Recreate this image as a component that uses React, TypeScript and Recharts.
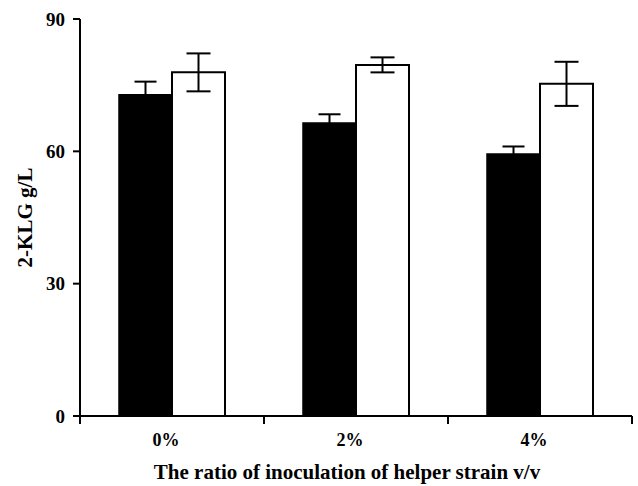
import { BarChart, Bar, XAxis, YAxis, ErrorBar, Label } from 'recharts'

const ratios = ['0%', '2%', '4%']
const blackVals = [72.8, 66.4, 59.4]
const blackErr = [3.0, 2.0, 1.7]
const whiteVals = [77.9, 79.6, 75.3]
const whiteErr = [4.3, 1.7, 5.0]
const yTicks = [0, 30, 60, 90]

const data = ratios.map((name, i) => ({
  name,
  black: blackVals[i],
  blackErr: blackErr[i],
  white: whiteVals[i],
  whiteErr: whiteErr[i],
}))

const font = '"Liberation Serif", "Times New Roman", serif'

function XTick(props: any) {
  const { x, y, payload, index, visibleTicksCount } = props
  const half = payload.offset || 92
  const last = index === visibleTicksCount - 1
  return (
    <g>
      <line x1={x - half} x2={x - half} y1={y - 8} y2={y} stroke="#000" strokeWidth={2} />
      {last && <line x1={x + half} x2={x + half} y1={y - 8} y2={y} stroke="#000" strokeWidth={2} />}
      <text x={x - 6} y={y + 22} textAnchor="middle" fontFamily={font} fontWeight="bold" fontSize={18} fill="#000">
        {payload.value}
      </text>
    </g>
  )
}

function XTitle(props: any) {
  const { viewBox } = props
  const cx = viewBox.x + viewBox.width / 2 - 9
  return (
    <text x={cx} y={479} textAnchor="middle" fontFamily={font} fontWeight="bold" fontSize={21} fill="#000">
      The ratio of inoculation of helper strain v/v
    </text>
  )
}

function YTitle(props: any) {
  const { viewBox } = props
  const cy = viewBox.y + viewBox.height / 2
  return (
    <text x={25} y={cy} transform={`rotate(-90 25 ${cy})`} textAnchor="middle" dominantBaseline="central"
      fontFamily={font} fontWeight="bold" fontSize={21} fill="#000">
      2-KLG g/L
    </text>
  )
}

export default function App() {
  return (
    <div style={{ position: 'absolute', left: 0, top: 0, background: '#fff' }}>
      <BarChart width={638} height={486} data={data} margin={{ top: 19, right: 6, bottom: 0, left: 0 }}
        barGap={0} barSize={53}>
        <XAxis dataKey="name" height={70} tickLine={false} tickSize={8} tickMargin={0}
          axisLine={{ stroke: '#000', strokeWidth: 2 }} tick={<XTick />} interval={0}>
          <Label content={<XTitle />} />
        </XAxis>
        <YAxis domain={[0, 90]} ticks={yTicks} width={80} tickSize={7} tickMargin={8}
          axisLine={{ stroke: '#000', strokeWidth: 2 }} tickLine={{ stroke: '#000', strokeWidth: 2 }}
          tick={{ fill: '#000', fontFamily: font, fontWeight: 'bold', fontSize: 19 }}>
          <Label content={<YTitle />} />
        </YAxis>
        <Bar dataKey="black" fill="#000" stroke="#000" strokeWidth={1.5} isAnimationActive={false}>
          <ErrorBar dataKey="blackErr" width={11} stroke="#000" strokeWidth={2} direction="y" />
        </Bar>
        <Bar dataKey="white" fill="#fff" stroke="#000" strokeWidth={2} isAnimationActive={false}>
          <ErrorBar dataKey="whiteErr" width={12} stroke="#000" strokeWidth={2} direction="y" />
        </Bar>
      </BarChart>
    </div>
  )
}
